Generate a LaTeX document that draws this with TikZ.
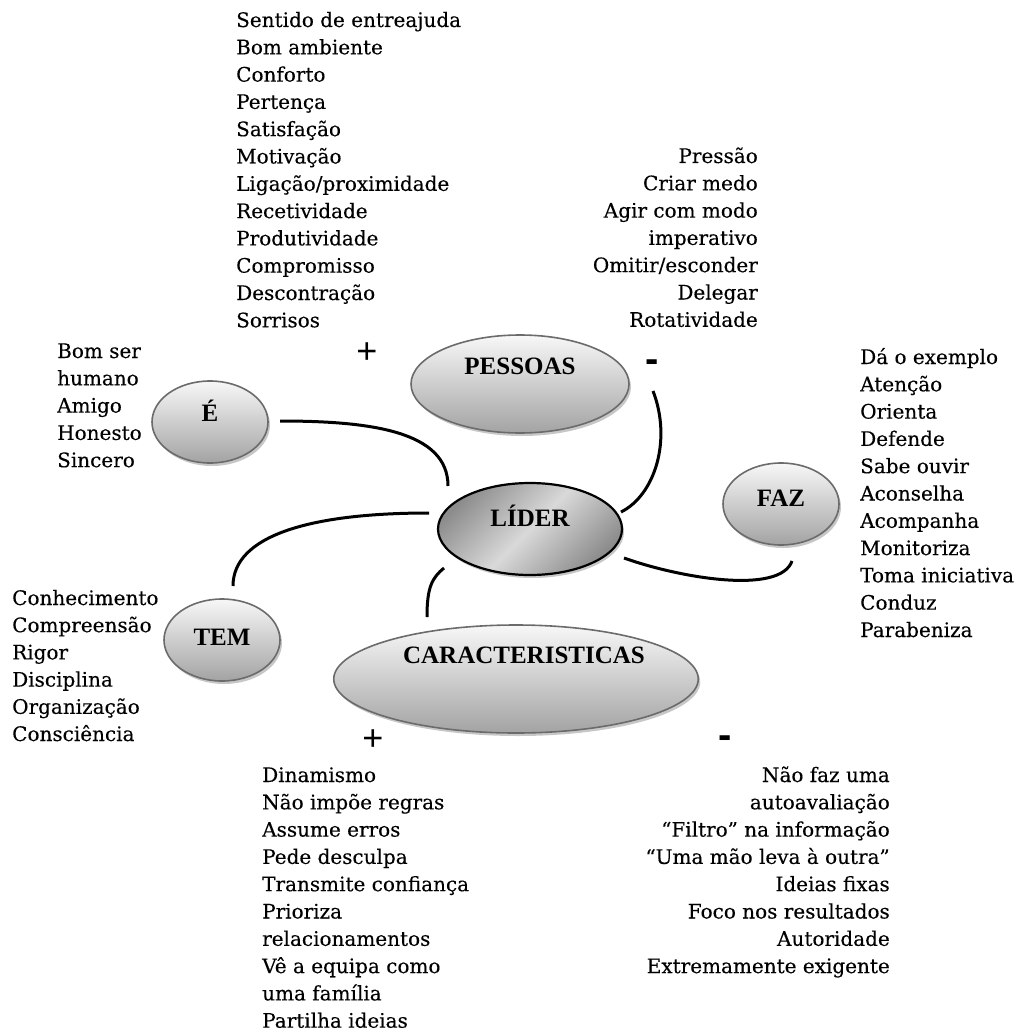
\documentclass[tikz,border=0pt]{standalone}
\usepackage{fontspec}
\setmainfont{DejaVu Serif}[FakeBold=0.25]
\newfontfamily\lblfont{Liberation Serif}
\newfontfamily\signfont{Liberation Sans}
\usetikzlibrary{shapes.geometric,shadows}

\tikzset{
	bubble/.style={ellipse, draw=black!58, line width=1.6pt, top color=black!3, bottom color=black!36, inner sep=0pt,
		font=\lblfont\bfseries\fontsize{25}{29}\selectfont, text height=17pt,
		drop shadow={shadow xshift=2pt, shadow yshift=-3pt, fill=black!22, opacity=1}},
	core/.style={bubble, draw=black, line width=2.2pt, top color=black!45, bottom color=black!45, middle color=black!15, shading angle=45},
	link/.style={line width=3pt},
	item/.style={font=\fontsize{20}{24}\selectfont, inner sep=0pt},
	sign/.style={font=\signfont\fontsize{36}{40}\selectfont, inner sep=0pt}
}

\begin{document}
\begin{tikzpicture}[x=1pt, y=-1pt]
	\useasboundingbox (0,0) rectangle (1023,1032);

	% bubbles
	\node[core, minimum width=184, minimum height=92, text depth=22pt] (lider) at (530,529) {LÍDER};
	\node[bubble, minimum width=218, minimum height=98, text depth=36pt] (pessoas) at (520,384) {PESSOAS};
	\node[bubble, minimum width=116, minimum height=82, text depth=18pt] (e) at (210,422) {É};
	\node[bubble, minimum width=116, minimum height=82, text depth=12pt] (faz) at (781,504) {FAZ};
	\node[bubble, minimum width=116, minimum height=82, text depth=6pt] (tem) at (222,640) {TEM};
	\node[bubble, minimum width=346, minimum height=108, text depth=48pt] (car) at (516,679) {\hspace*{16pt}CARACTERISTICAS};

	% links
	\draw[link] ([shift={(70,-1)}]e.center) .. controls +(90,0) and +(0,-55) .. ([shift={(-82,-43)}]lider.center);
	\draw[link] ([shift={(-101,-16)}]lider.center) .. controls +(-120,0) and +(0,-50) .. ([shift={(11,-54)}]tem.center);
	\draw[link] ([shift={(-86,39)}]lider.center) .. controls +(-12,10) and +(0,-30) .. ([shift={(-89,-62)}]car.center);
	\draw[link] ([shift={(133,7)}]pessoas.center) .. controls +(19,49) and +(34,-17) .. ([shift={(91,-17)}]lider.center);
	\draw[link] ([shift={(94,29)}]lider.center) .. controls +(56,20) and +(-12,34) .. ([shift={(11,57)}]faz.center);

	% signs
	\node[sign] (pplus) at (367,353) {+};
	\node[sign, font=\signfont\bfseries\fontsize{40}{44}\selectfont] (pminus) at (652,366) {-};
	\node[sign] (cplus) at (373,740) {+};
	\node[sign, font=\signfont\bfseries\fontsize{40}{44}\selectfont] (cminus) at (725,742) {-};

	% lists
	\foreach \t [count=\i from 0] in {Sentido de entreajuda,
		Bom ambiente,
		Conforto,
		Pertença,
		Satisfação,
		Motivação,
		Ligação/proximidade,
		Recetividade,
		Produtividade,
		Compromisso,
		Descontração,
		Sorrisos}
		\node[item, anchor=base west] (pmais\i) at (236,27+27.3*\i) {\t};

	\foreach \t [count=\i from 0] in {Pressão,
		Criar medo,
		Agir com modo,
		imperativo,
		Omitir/esconder,
		Delegar,
		Rotatividade}
		\node[item, anchor=base east] (pmenos\i) at (758,163+27.3*\i) {\t};

	\foreach \t [count=\i from 0] in {Bom ser,
		humano,
		Amigo,
		Honesto,
		Sincero}
		\node[item, anchor=base west] (ser\i) at (57,358+27.3*\i) {\t};

	\foreach \t [count=\i from 0] in {Conhecimento,
		Compreensão,
		Rigor,
		Disciplina,
		Organização,
		Consciência}
		\node[item, anchor=base west] (ter\i) at (12,605+27.2*\i) {\t};

	\foreach \t [count=\i from 0] in {Dá o exemplo,
		Atenção,
		Orienta,
		Defende,
		Sabe ouvir,
		Aconselha,
		Acompanha,
		Monitoriza,
		Toma iniciativa,
		Conduz,
		Parabeniza}
		\node[item, anchor=base west] (fazer\i) at (860,364+27.3*\i) {\t};

	\foreach \t [count=\i from 0] in {Dinamismo,
		Não impõe regras,
		Assume erros,
		Pede desculpa,
		Transmite confiança,
		Prioriza,
		relacionamentos,
		Vê a equipa como,
		uma família,
		Partilha ideias}
		\node[item, anchor=base west] (cmais\i) at (262,782+27.3*\i) {\t};

	\foreach \t [count=\i from 0] in {Não faz uma,
		autoavaliação,
		“Filtro” na informação,
		“Uma mão leva à outra”,
		Ideias fixas,
		Foco nos resultados,
		Autoridade,
		Extremamente exigente}
		\node[item, anchor=base east] (cmenos\i) at (890,782+27.3*\i) {\t};
\end{tikzpicture}
\end{document}
